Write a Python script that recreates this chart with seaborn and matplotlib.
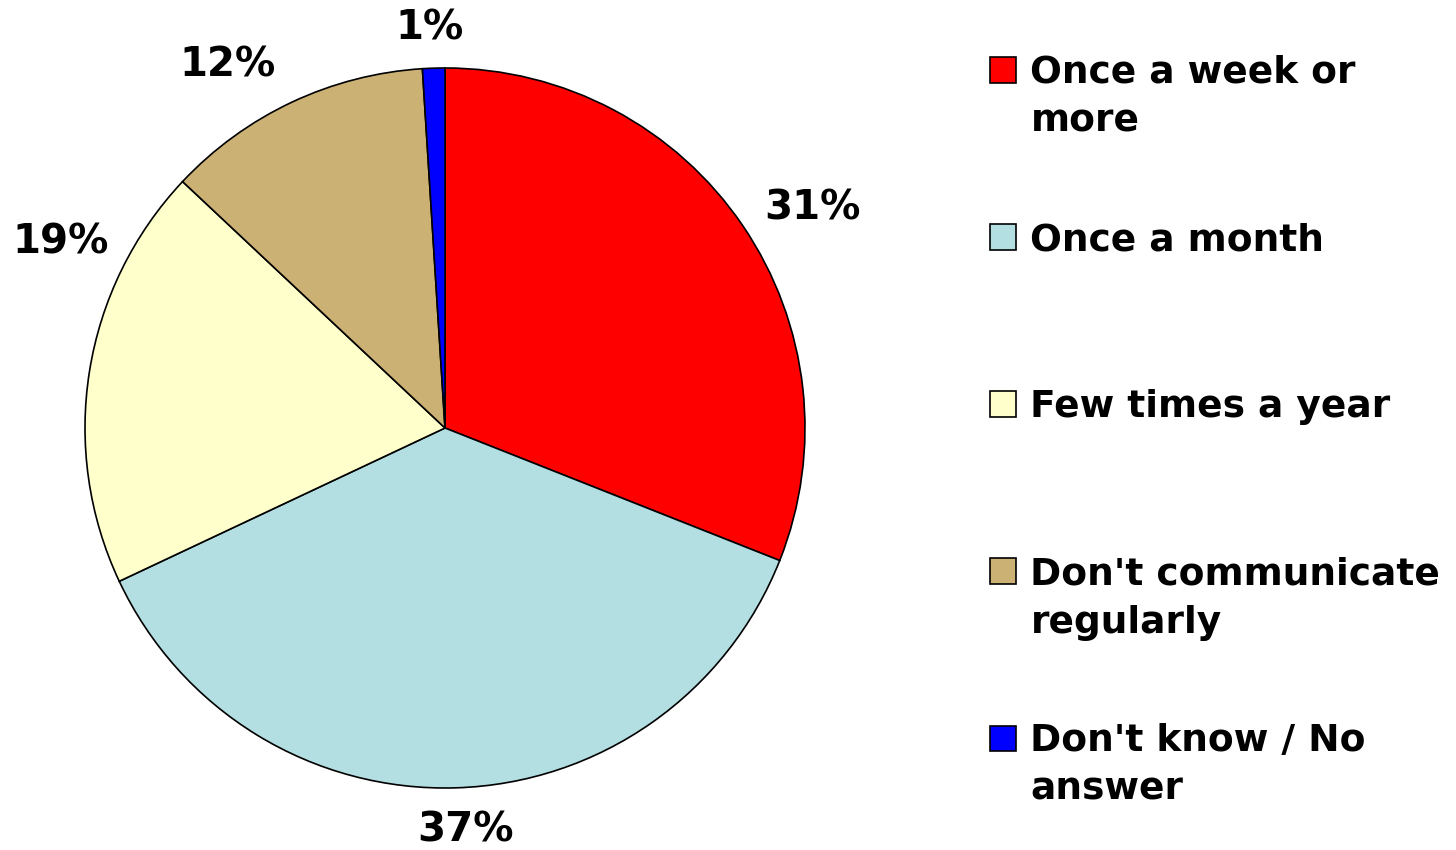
import matplotlib
matplotlib.use("Agg")
import matplotlib.pyplot as plt
import seaborn as sns
from matplotlib.patches import Patch, Rectangle
from matplotlib.legend_handler import HandlerPatch

sns.set_theme(style="white")
plt.rcParams['font.family'] = ['DejaVu Sans']
plt.rcParams['text.color'] = 'black'

categories = ["Once a week or\nmore", "Once a month\n", "Few times a year\n",
              "Don't communicate\nregularly", "Don't know / No\nanswer"]
values = [31, 37, 19, 12, 1]
pct_labels = ["31%", "37%", "19%", "12%", "1%"]
colors = ["#FF0000", "#B4DFE2", "#FFFFCC", "#CCB174", "#0000FF"]
# label anchor positions (pie-radius units)
label_pos = [(1.022, 0.611), (0.056, -1.117), (-1.068, 0.514), (-0.603, 1.008), (-0.042, 1.111)]

FS = 27
FS_PCT = 29

fig = plt.figure(figsize=(14.56, 8.5), dpi=100)
ax = fig.add_axes([85/1456, 62/850, 720/1456, 720/850])
wedges, _ = ax.pie(values, colors=colors, startangle=90, counterclock=False,
                   wedgeprops=dict(edgecolor="black", linewidth=1.2))
ax.set_xlim(-1, 1)
ax.set_ylim(-1, 1)
ax.set_aspect("equal")
ax.axis("off")

for (x, y), t in zip(label_pos, pct_labels):
    ax.text(x, y, t, ha="center", va="center", fontsize=FS_PCT, fontweight="bold",
            color="black", clip_on=False)


class TopHandler(HandlerPatch):
    def __init__(self, shift, **kw):
        super().__init__(**kw)
        self.shift = shift

    def create_artists(self, legend, orig_handle, xdescent, ydescent, width, height, fontsize, trans):
        s = height
        r = Rectangle((-xdescent, -ydescent + self.shift * fontsize), s, s,
                      facecolor=orig_handle.get_facecolor(), edgecolor="black", linewidth=1.2,
                      transform=trans)
        return [r]


handles = [Patch(facecolor=c, edgecolor="black") for c in colors]
leg = fig.legend(handles, categories, loc="upper left",
                 bbox_to_anchor=(990/1456, 1 - 55/850), frameon=False,
                 prop=dict(size=FS, weight="bold"), handlelength=0.68, handleheight=0.68,
                 handletextpad=0.4, labelspacing=2.2, borderpad=0, borderaxespad=0,
                 handler_map={Patch: TopHandler(shift=0.75)})
for t in leg.get_texts():
    t.set_linespacing(1.45)
    t.set_color("black")

fig.savefig("out.png", dpi=100, facecolor="white")
